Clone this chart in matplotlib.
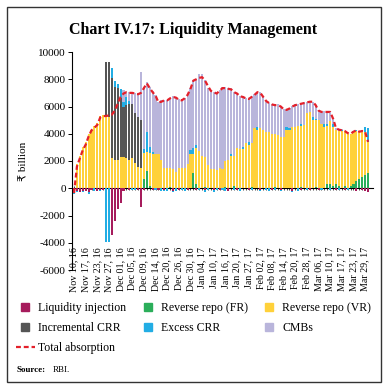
import numpy as np
import matplotlib
matplotlib.use('Agg')
import matplotlib.pyplot as plt
from matplotlib.lines import Line2D
from matplotlib.patches import Rectangle

plt.rcParams['font.family'] = ['Liberation Serif', 'DejaVu Sans']
plt.rcParams['axes.unicode_minus'] = False

# DATA (₹ billion), one value per LAF day
tick_labels = ['Nov 10, 16', 'Nov 17, 16', 'Nov 23, 16', 'Nov 27, 16', 'Dec 01, 16',
               'Dec 05, 16', 'Dec 09, 16', 'Dec 14, 16', 'Dec 20, 16', 'Dec 26, 16',
               'Dec 30, 16', 'Jan 04, 17', 'Jan 10, 17', 'Jan 16, 17', 'Jan 20, 17',
               'Jan 27, 17', 'Feb 02, 17', 'Feb 08, 17', 'Feb 14, 17', 'Feb 20, 17',
               'Feb 28, 17', 'Mar 06, 17', 'Mar 10, 17', 'Mar 17, 17', 'Mar 23, 17',
               'Mar 29, 17']

liq_injection = [-300, -200, -300, -200, -200, -300, -100, 0, -200, -100,
                 -100, 0, 0, -3450, -2400, -1500, -1100, -200, 0, -100,
                 0, 0, -100, -1400, -100, 0, 0, -100, 0, -100,
                 0, -100, 0, 0, -200, 0, -100, 0, 0, -100,
                 0, 0, -100, 0, 0, -100, 0, 0, -100, 0,
                 -100, 0, 0, -200, 0, 0, -100, 0, 0, 0,
                 -100, 0, 0, 0, -100, 0, 0, 0, -100, 0,
                 0, -100, 0, 0, 0, -200, 0, 0, -100, 0,
                 0, -100, 0, 0, -100, 0, 0, 0, 0, 0,
                 -100, 0, 0, -100, 0, 0, 0, -200, 0, -100,
                 -200, -300]

rev_repo_fr = [0, 0, 0, 0, 0, 0, 0, 0, 0, 0,
               0, 0, 0, 0, 0, 0, 0, 0, 0, 0,
               0, 0, 0, 0, 700, 1300, 200, 0, 0, 0,
               0, 0, 0, 100, 0, 0, 0, 0, 0, 0,
               0, 1100, 300, 0, 0, 100, 0, 0, 0, 0,
               0, 0, 100, 0, 0, 200, 0, 0, 0, 0,
               0, 100, 0, 0, 0, 0, 0, 0, 0, 100,
               0, 0, 0, 0, 0, 0, 0, 0, 100, 0,
               0, 0, 0, 100, 0, 0, 0, 300, 300, 200,
               300, 200, 0, 200, 0, 200, 300, 500, 700, 800,
               1000, 1100]

rev_repo_vr = [0, 1800, 2400, 3000, 3400, 4000, 4300, 4600, 4800, 5300,
               5350, 5250, 5250, 2200, 2100, 2050, 2300, 2300, 2200, 2100,
               2200, 1850, 1550, 1500, 1900, 1350, 2400, 2550, 2550, 2500,
               2100, 1500, 1450, 1350, 1400, 1200, 1450, 1450, 1500, 1800,
               2500, 1450, 2650, 2700, 2400, 2200, 1700, 1400, 1400, 1350,
               1450, 1400, 1900, 2100, 2350, 2200, 2950, 2900, 2850, 3300,
               3200, 3200, 4400, 4300, 4400, 4300, 4100, 4100, 4000, 3900,
               3900, 3750, 3750, 4300, 4300, 4500, 4500, 4600, 4500, 4650,
               5500, 5600, 5000, 4900, 5000, 4700, 4500, 4300, 4600, 4300,
               4000, 4000, 4200, 4000, 4000, 3800, 3800, 3700, 3400, 3300,
               3100, 2300]

incr_crr = [0, 0, 0, 0, 0, 0, 0, 0, 0, 0,
            0, 4000, 4000, 5900, 5300, 5300, 4300, 3700, 3900, 4100,
            4000, 3650, 3650, 3500, 0, 0, 0, 0, 0, 0,
            0, 0, 0, 0, 0, 0, 0, 0, 0, 0,
            0, 0, 0, 0, 0, 0, 0, 0, 0, 0,
            0, 0, 0, 0, 0, 0, 0, 0, 0, 0,
            0, 0, 0, 0, 0, 0, 0, 0, 0, 0,
            0, 0, 0, 0, 0, 0, 0, 0, 0, 0,
            0, 0, 0, 0, 0, 0, 0, 0, 0, 0,
            0, 0, 0, 0, 0, 0, 0, 0, 0, 0,
            0, 0]

excess_crr = [-100, -100, 0, -100, 0, -100, 0, -200, 0, -100,
              0, -3950, -3950, 700, 500, 300, 700, 300, 600, 200,
              -100, -100, 0, 0, 300, 1450, 400, 100, -100, 0,
              -200, -100, -200, 0, -100, -200, 0, -100, -200, 0,
              300, 400, 200, -100, 0, -200, -100, 0, -200, -100,
              0, -100, -200, 0, 150, -100, 0, -200, 150, 0,
              200, -100, 0, 200, -100, 0, -100, -200, 0, -100,
              0, -100, 0, 200, 150, -100, 0, -200, 100, 0,
              -100, 0, 200, 100, 0, -100, 200, 100, -100, 200,
              0, -100, 100, 0, -100, 0, 100, 100, 100, 200,
              400, 1000]

cmbs = [0, 0, 0, 0, 0, 0, 0, 0, 0, 0,
        0, 0, 0, 0, 0, 0, 0, 900, 400, 700,
        900, 1500, 1800, 3500, 4500, 3700, 4400, 4500, 4300, 3850,
        4350, 5000, 5050, 5200, 5350, 5500, 5100, 5050, 5150, 5100,
        4550, 5000, 4900, 5650, 5950, 5650, 5650, 5800, 5650, 5600,
        5750, 6050, 5400, 5250, 4850, 4700, 4050, 3900, 3750, 3350,
        3200, 3450, 2500, 2600, 2650, 2450, 2250, 2150, 2200, 2150,
        2250, 2300, 2100, 1300, 1450, 1550, 1650, 1600, 1550, 1650,
        850, 800, 1100, 1000, 750, 950, 950, 950, 750, 450,
        150, 100, 50, 0, 0, 0, 0, 0, 0, 0,
        0, 0]

total_absorption = [-350, 1600, 2200, 2800, 3200, 3800, 4250, 4450, 4650, 5200,
                    5300, 5300, 5350, 5400, 5700, 6200, 6700, 6950, 7050, 7000,
                    7000, 6950, 6900, 7000, 7350, 7700, 7350, 7050, 6800, 6300,
                    6350, 6450, 6450, 6600, 6700, 6650, 6500, 6450, 6600, 6850,
                    7300, 7900, 8000, 8100, 8150, 7900, 7500, 7150, 7050, 6950,
                    7150, 7350, 7350, 7300, 7250, 7050, 6950, 6750, 6700, 6600,
                    6550, 6700, 6850, 7050, 7000, 6700, 6400, 6250, 6150, 6100,
                    6100, 6000, 5800, 5750, 5850, 6000, 6100, 6150, 6200, 6250,
                    6300, 6350, 6350, 6100, 5700, 5600, 5600, 5600, 5600, 5100,
                    4400, 4300, 4250, 4200, 4050, 4000, 4150, 4250, 4150, 4200,
                    4150, 3400]

c_inj = '#A61C5C'
c_fr = '#2BAE5A'
c_vr = '#FFD13A'
c_crr = '#555555'
c_ex = '#22ADE4'
c_cmb = '#B9B5DB'
c_tot = '#E4202A'

x = np.arange(len(total_absorption))
ex = np.array(excess_crr)
ex_pos = np.clip(ex, 0, None)
ex_neg = np.clip(ex, None, 0)

fig = plt.figure(figsize=(3.88, 3.90), dpi=100)
ax = fig.add_axes([72/388, 120/390, 301/388, 218/390])

w = 0.72
# positive stack
b = np.zeros(len(x))
for vals, col in [(rev_repo_fr, c_fr), (rev_repo_vr, c_vr), (incr_crr, c_crr),
                  (ex_pos, c_ex), (cmbs, c_cmb)]:
    ax.bar(x, vals, w, bottom=b, color=col, lw=0)
    b = b + np.array(vals)
# negative stack
ax.bar(x, liq_injection, w, color=c_inj, lw=0)
ax.bar(x, ex_neg, w, bottom=liq_injection, color=c_ex, lw=0)

ax.plot(x, total_absorption, color=c_tot, lw=1.6, ls=(0, (2.2, 1.3)), zorder=5)

ax.set_xlim(-0.7, len(x) + 0.7)
ax.set_ylim(-6000, 10000)
ax.set_yticks(np.arange(-6000, 10001, 2000))
ax.tick_params(axis='y', labelsize=8, length=3, width=0.7, pad=1.5)
ax.set_xticks(np.arange(0, 4*len(tick_labels), 4), tick_labels, rotation=90)
ax.tick_params(axis='x', length=0, labelsize=7.2, pad=-16.5)
for s in ['top', 'right', 'bottom']:
    ax.spines[s].set_visible(False)
ax.spines['left'].set_linewidth(0.8)
ax.set_ylabel('₹ billion', fontsize=8)
ax.yaxis.set_label_coords(-0.145, 0.5)

# zero line with a tick per day
zero = ax.secondary_xaxis(0, transform=ax.transData)
zero.set_xticks(x)
zero.tick_params(direction='inout', length=3, width=0.5, labelbottom=False)
zero.spines['bottom'].set_linewidth(0.8)

fig.text(0.497, 0.922, 'Chart IV.17: Liquidity Management', ha='center', va='center',
         fontsize=11.5, fontweight='bold')

handles = [
    Line2D([], [], ls='none', marker='s', ms=6, color=c_inj, label='Liquidity injection'),
    Line2D([], [], ls='none', marker='s', ms=6, color=c_crr, label='Incremental CRR'),
    Line2D([], [], color=c_tot, lw=1.6, ls=(0, (2.2, 1.3)), label='Total absorption'),
    Line2D([], [], ls='none', marker='s', ms=6, color=c_fr, label='Reverse repo (FR)'),
    Line2D([], [], ls='none', marker='s', ms=6, color=c_ex, label='Excess CRR'),
    Line2D([], [], ls='none', marker='s', ms=6, color=c_vr, label='Reverse repo (VR)'),
    Line2D([], [], ls='none', marker='s', ms=6, color=c_cmb, label='CMBs'),
]
fig.legend(handles=handles, ncol=3, loc='upper left', bbox_to_anchor=(16/388, 1 - 302/390),
           frameon=False, fontsize=8.5, borderpad=0, borderaxespad=0,
           handlelength=1.6, handletextpad=0.3, columnspacing=1.0, labelspacing=0.68)

fig.text(17/388, 1 - 370/390, 'Source:', fontsize=6.5, fontweight='bold', va='center')
fig.text(53/388, 1 - 370/390, 'RBI.', fontsize=6.5, va='center')

fig.patches.append(Rectangle((7/388, 1 - 382/390), 374/388, 375/390, transform=fig.transFigure,
                             fill=False, lw=1.0, ec='#333333'))

fig.savefig('out.png', dpi=100)
